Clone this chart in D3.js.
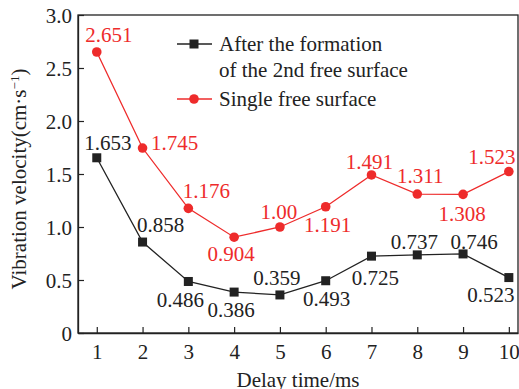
<!DOCTYPE html>
<html>
<head>
<meta charset="utf-8">
<script src="https://cdn.jsdelivr.net/npm/d3@7"></script>
<style>
body { margin: 0; background: #fff; }
svg text { font-family: "Liberation Serif", "Times New Roman", Times, "DejaVu Serif", serif !important; }
</style>
</head>
<body>
<svg id="chart" width="519" height="389"></svg>
<script>
// delay times and the two measured series
var delays = [1, 2, 3, 4, 5, 6, 7, 8, 9, 10];
var secondSurface = [1.653, 0.858, 0.486, 0.386, 0.359, 0.493, 0.725, 0.737, 0.746, 0.523];
var singleSurface = [2.651, 1.745, 1.176, 0.904, 1.00, 1.191, 1.491, 1.311, 1.308, 1.523];
var secondLabels = ["1.653", "0.858", "0.486", "0.386", "0.359", "0.493", "0.725", "0.737", "0.746", "0.523"];
var singleLabels = ["2.651", "1.745", "1.176", "0.904", "1.00", "1.191", "1.491", "1.311", "1.308", "1.523"];
var yTicks = [0, 0.5, 1.0, 1.5, 2.0, 2.5, 3.0];

// where each value label sits relative to its point (dx, dy of text centre)
var secondOff = [[11,-15],[18,-17],[-8,18],[-3,18],[-3,-17],[1,18],[4,21],[-3,-13],[11,-12],[-18,17]];
var singleOff = [[12,-17],[32,-5],[18,-18],[-3,16],[-1,-15],[2,18],[-2,-13],[3,-18],[-1,19],[-17,-15]];

var svg = d3.select("#chart");
var mLeft = 78, mRight = 518, mTop = 15, mBottom = 333;
var fs = "21px";

var x = d3.scaleLinear().domain([0.59, 10.2]).range([mLeft, mRight]);
var y = d3.scaleLinear().domain([0, 3]).range([mBottom, mTop]);

var red = "#ee2b2b", dark = "#222";

// frame
svg.append("rect")
	.attr("x", mLeft).attr("y", mTop)
	.attr("width", mRight - mLeft).attr("height", mBottom - mTop)
	.attr("fill", "none").attr("stroke", dark).attr("stroke-width", 1.3);

// axes, ticks inside
var xAxis = svg.append("g").attr("transform", "translate(0," + mBottom + ")")
	.call(d3.axisBottom(x).tickValues(delays).tickSizeInner(-6).tickSizeOuter(0).tickPadding(11));
var yAxis = svg.append("g").attr("transform", "translate(" + mLeft + ",0)")
	.call(d3.axisLeft(y).tickValues(yTicks).tickSizeInner(-6).tickSizeOuter(0).tickPadding(6)
		.tickFormat(function (d) { return d == 0 ? "0" : d3.format(".1f")(d) }));
[xAxis, yAxis].forEach(function (a) {
	a.attr("font-family", null).attr("font-size", null);
	a.select(".domain").attr("stroke", dark).attr("stroke-width", 1.3);
	a.selectAll(".tick line").attr("stroke", dark).attr("stroke-width", 1.2);
	a.selectAll(".tick text").attr("fill", dark).style("font-size", fs);
});
yAxis.selectAll(".tick text").attr("dy", "0.35em");

// axis titles
svg.append("text")
	.attr("x", 298).attr("y", 387)
	.attr("text-anchor", "middle").attr("fill", dark).style("font-size", fs)
	.text("Delay time/ms");
var yt = svg.append("text")
	.attr("transform", "translate(26,179) rotate(-90)")
	.attr("text-anchor", "middle").attr("fill", dark).style("font-size", fs);
yt.append("tspan").text("Vibration velocity(cm·s");
yt.append("tspan").attr("dy", -7).style("font-size", "13px").text("−1");
yt.append("tspan").attr("dy", 7).text(")");

var line = d3.line().x(function (d) { return x(d[0]) }).y(function (d) { return y(d[1]) });

function series(vals, labels, offs, color, shape) {
	var pts = delays.map(function (d, i) { return [d, vals[i]] });
	svg.append("path").datum(pts)
		.attr("d", line).attr("fill", "none").attr("stroke", color).attr("stroke-width", 1.3);
	if (shape == "square") {
		svg.selectAll(null).data(pts).enter().append("rect")
			.attr("x", function (d) { return x(d[0]) - 4.5 })
			.attr("y", function (d) { return y(d[1]) - 4.5 })
			.attr("width", 9).attr("height", 9).attr("fill", color);
	} else {
		svg.selectAll(null).data(pts).enter().append("circle")
			.attr("cx", function (d) { return x(d[0]) })
			.attr("cy", function (d) { return y(d[1]) })
			.attr("r", 4.8).attr("fill", color);
	}
	svg.selectAll(null).data(pts).enter().append("text")
		.attr("x", function (d, i) { return x(d[0]) + offs[i][0] })
		.attr("y", function (d, i) { return y(d[1]) + offs[i][1] })
		.attr("dy", "0.35em").attr("text-anchor", "middle")
		.attr("fill", color).style("font-size", fs)
		.text(function (d, i) { return labels[i] });
}
series(secondSurface, secondLabels, secondOff, dark, "square");
series(singleSurface, singleLabels, singleOff, red, "circle");

// legend
var lg = svg.append("g");
lg.append("line").attr("x1", 177).attr("x2", 212).attr("y1", 44).attr("y2", 44)
	.attr("stroke", dark).attr("stroke-width", 1.3);
lg.append("rect").attr("x", 189.5).attr("y", 39.5).attr("width", 9).attr("height", 9).attr("fill", dark);
lg.append("line").attr("x1", 177).attr("x2", 212).attr("y1", 99).attr("y2", 99)
	.attr("stroke", red).attr("stroke-width", 1.3);
lg.append("circle").attr("cx", 194).attr("cy", 99).attr("r", 4.8).attr("fill", red);
lg.append("text").attr("x", 219).attr("y", 44).attr("dy", "0.35em").attr("fill", dark)
	.style("font-size", fs).text("After the formation");
lg.append("text").attr("x", 219).attr("y", 70).attr("dy", "0.35em").attr("fill", dark)
	.style("font-size", fs).text("of the 2nd free surface");
lg.append("text").attr("x", 219).attr("y", 99).attr("dy", "0.35em").attr("fill", dark)
	.style("font-size", fs).text("Single free surface");
</script>
</body>
</html>
